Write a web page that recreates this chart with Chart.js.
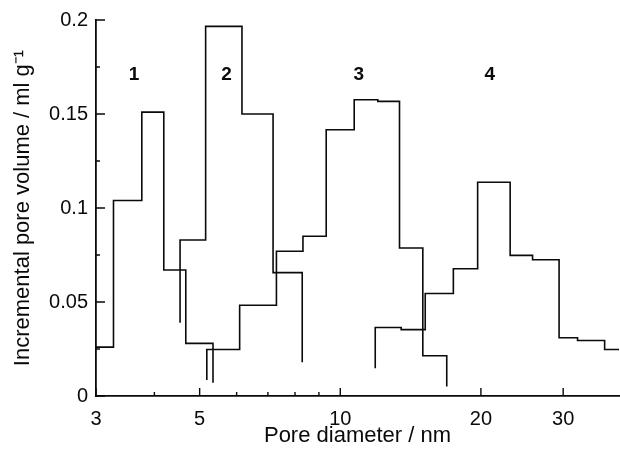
<!DOCTYPE html>
<html>
<head>
<meta charset="utf-8">
<script src="https://cdn.jsdelivr.net/npm/chart.js@4/dist/chart.umd.min.js"></script>
<style>
  html, body { margin: 0; padding: 0; background: #fff; }
  #wrap { width: 620px; height: 449px; position: relative; }
</style>
</head>
<body>
<div id="wrap"><canvas id="c" width="620" height="449"></canvas></div>
<script>
// ---- Data (pore diameter bin edges in nm, incremental pore volume in ml/g) ----
const s1Edges  = [3.0, 3.27, 3.76, 4.19, 4.67, 5.34];
const s1Values = [0.026, 0.104, 0.151, 0.067, 0.028];
const s1StartDrop = null;
const s1EndDrop = 0.007;

const s2Edges  = [4.54, 5.15, 6.16, 7.18, 8.29];
const s2Values = [0.083, 0.1966, 0.150, 0.0656];
const s2StartDrop = 0.039;
const s2EndDrop = 0.018;

const s3Edges  = [5.18, 6.09, 7.30, 8.32, 9.33, 10.71, 12.03, 13.39, 15.02, 16.9];
const s3Values = [0.0247, 0.0483, 0.077, 0.085, 0.1416, 0.1576, 0.1567, 0.0787, 0.0214];
const s3StartDrop = 0.0085;
const s3EndDrop = 0.005;

const s4Edges  = [11.88, 13.5, 15.2, 17.46, 19.68, 23.1, 25.8, 29.4, 32.2, 36.8, 39.5];
const s4Values = [0.0364, 0.0353, 0.0545, 0.0677, 0.1137, 0.0748, 0.0725, 0.031, 0.0295, 0.0247];
const s4StartDrop = 0.0147;
const s4EndDrop = null;

const seriesNames = ['1', '2', '3', '4'];
const labelX = [3.62, 5.71, 10.95, 20.9];
const labelY = [0.171, 0.171, 0.171, 0.171];

const xMajorTicks = [3, 5, 10, 20, 30];
const xMinorTicks = [4, 6, 7, 8, 9];
const yMajorTicks = [0, 0.05, 0.1, 0.15, 0.2];
const yMinorTicks = [0.025, 0.075, 0.125, 0.175];

const xTitle = 'Pore diameter / nm';
const yTitle = 'Incremental pore volume / ml g\u207B\u00B9';

// ---- build step points ----
function stepPoints(edges, values, startDrop, endDrop) {
  const pts = [];
  if (startDrop !== null) pts.push({x: edges[0], y: startDrop});
  for (let i = 0; i < values.length; i++) pts.push({x: edges[i], y: values[i]});
  const last = edges[edges.length - 1];
  pts.push({x: last, y: values[values.length - 1]});
  if (endDrop !== null) pts.push({x: last, y: endDrop});
  return pts;
}

const FONT = '"Liberation Sans", Arial, Helvetica, sans-serif';
const INK = '#0a0a0a';
const ds = (name, pts) => ({
  label: name, data: pts, stepped: 'before', borderColor: INK, borderWidth: 1.6,
  pointRadius: 0, fill: false, tension: 0
});

const tickPlugin = {
  id: 'tickMarks',
  afterDraw(chart) {
    const ctx = chart.ctx;
    const xs = chart.scales.x, ys = chart.scales.y;
    const ca = chart.chartArea;
    ctx.save();
    ctx.strokeStyle = INK;
    ctx.lineWidth = 1.4;
    ctx.beginPath();
    yMajorTicks.forEach(v => { const p = ys.getPixelForValue(v); ctx.moveTo(ca.left, p); ctx.lineTo(ca.left + 9, p); });
    yMinorTicks.forEach(v => { const p = ys.getPixelForValue(v); ctx.moveTo(ca.left, p); ctx.lineTo(ca.left + 4, p); });
    xMajorTicks.forEach(v => { const p = xs.getPixelForValue(v); ctx.moveTo(p, ca.bottom); ctx.lineTo(p, ca.bottom - 8); });
    xMinorTicks.forEach(v => { const p = xs.getPixelForValue(v); ctx.moveTo(p, ca.bottom); ctx.lineTo(p, ca.bottom - 4); });
    ctx.stroke();
    // series number labels
    ctx.fillStyle = INK;
    ctx.font = 'bold 19px ' + FONT;
    ctx.textAlign = 'center';
    ctx.textBaseline = 'middle';
    seriesNames.forEach((t, i) => {
      ctx.fillText(t, xs.getPixelForValue(labelX[i]), ys.getPixelForValue(labelY[i]));
    });
    ctx.restore();
  }
};

new Chart(document.getElementById('c'), {
  type: 'line',
  data: {
    datasets: [
      ds('1', stepPoints(s1Edges, s1Values, s1StartDrop, s1EndDrop)),
      ds('2', stepPoints(s2Edges, s2Values, s2StartDrop, s2EndDrop)),
      ds('3', stepPoints(s3Edges, s3Values, s3StartDrop, s3EndDrop)),
      ds('4', stepPoints(s4Edges, s4Values, s4StartDrop, s4EndDrop))
    ]
  },
  options: {
    responsive: false,
    animation: false,
    parsing: false,
    layout: { padding: { top: 19, right: 1, left: 0, bottom: 0 } },
    plugins: { legend: { display: false }, tooltip: { enabled: false } },
    scales: {
      x: {
        type: 'logarithmic',
        min: 3, max: 39.5,
        grid: { display: false, drawTicks: false },
        border: { display: true, color: INK, width: 1.8 },
        afterBuildTicks: (scale) => { scale.ticks = xMajorTicks.map(v => ({value: v})); },
        afterFit: (scale) => { scale.height = 53; },
        ticks: {
          color: INK, padding: 11, maxRotation: 0, autoSkip: false,
          font: { family: FONT, size: 20 },
          callback: (v) => String(v)
        },
        title: { display: true, text: xTitle, color: INK, padding: { top: 0, bottom: 0 },
          font: { family: FONT, size: 22, lineHeight: 1.2 } }
      },
      y: {
        type: 'linear',
        min: 0, max: 0.2,
        grid: { display: false, drawTicks: false },
        border: { display: true, color: INK, width: 1.8 },
        afterBuildTicks: (scale) => { scale.ticks = yMajorTicks.map(v => ({value: v})); },
        afterFit: (scale) => { scale.width = 96; },
        ticks: {
          color: INK, padding: 8,
          font: { family: FONT, size: 20 },
          callback: (v) => String(Math.round(v * 1000) / 1000)
        },
        title: { display: true, text: yTitle, color: INK, padding: { top: 10, bottom: 0 },
          font: { family: FONT, size: 22, lineHeight: 1.2 } }
      }
    }
  },
  plugins: [tickPlugin]
});
</script>
</body>
</html>
